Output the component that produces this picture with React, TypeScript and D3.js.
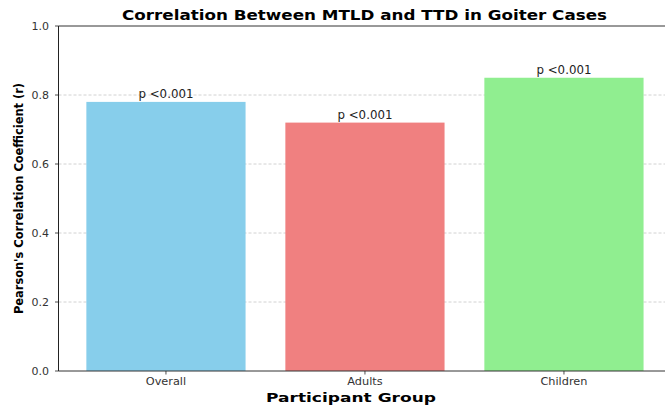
import * as React from 'react'
import * as d3 from 'd3'

const groups = ['Overall', 'Adults', 'Children']
const coefficients = [0.78, 0.72, 0.85]
const pLabels = ['p <0.001', 'p <0.001', 'p <0.001']
const barColors = ['#87ceeb', '#f08080', '#90ee90']
const yTicks = [0, 0.2, 0.4, 0.6, 0.8, 1.0]

const width = 665
const height = 405
const margin = { left: 58.5, top: 26, bottom: 34 }
const font = '"DejaVu Sans", sans-serif'

export default function App() {
  const plotBottom = height - margin.bottom
  // matplotlib-like x limits: -0.54 .. 2.54, band step ~199px
  const x = d3.scaleLinear().domain([-0.54, 2.54]).range([margin.left, margin.left + 3.08 * 199])
  const y = d3.scaleLinear().domain([0, 1]).range([plotBottom, margin.top])
  const barW = x(0.8) - x(0)

  return (
    <svg width={width} height={height} style={{ position: 'absolute', left: 0, top: 0, background: '#fff' }}>
      {/* gridlines */}
      {yTicks.slice(1, -1).map(t => (
        <line key={'g' + t} x1={margin.left} x2={width} y1={y(t)} y2={y(t)}
          stroke="#b0b0b0" strokeWidth={0.8} strokeDasharray="3,2" opacity={0.7} />
      ))}
      {/* bars */}
      {groups.map((g, i) => (
        <rect key={g} x={x(i) - barW / 2} y={y(coefficients[i])} width={barW}
          height={plotBottom - y(coefficients[i])} fill={barColors[i]} />
      ))}
      {/* p labels */}
      {groups.map((g, i) => (
        <text key={'p' + g} x={x(i)} y={y(coefficients[i]) - 3.5} textAnchor="middle"
          fontFamily={font} fontSize={11.5} fill="#222" textLength={55} lengthAdjust="spacingAndGlyphs">{pLabels[i]}</text>
      ))}
      {/* spines */}
      <line x1={margin.left} x2={margin.left} y1={margin.top} y2={plotBottom} stroke="#222" strokeWidth={1} />
      <line x1={margin.left} x2={width} y1={plotBottom} y2={plotBottom} stroke="#333" strokeWidth={1} />
      <line x1={margin.left} x2={width} y1={margin.top} y2={margin.top} stroke="#333" strokeWidth={1} />
      {/* y ticks */}
      {yTicks.map(t => (
        <g key={'yt' + t}>
          <line x1={margin.left - 3.5} x2={margin.left} y1={y(t)} y2={y(t)} stroke="#222" strokeWidth={0.8} />
          <text x={margin.left - 9.5} y={y(t)} dy="0.35em" textAnchor="end" fontFamily={font} fontSize={11} fill="#333">
            {t.toFixed(1)}
          </text>
        </g>
      ))}
      {/* x ticks */}
      {groups.map((g, i) => (
        <g key={'xt' + g}>
          <line x1={x(i)} x2={x(i)} y1={plotBottom} y2={plotBottom + 3.5} stroke="#222" strokeWidth={0.8} />
          <text x={x(i)} y={plotBottom + 14} textAnchor="middle" fontFamily={font} fontSize={11.3} fill="#333">{g}</text>
        </g>
      ))}
      {/* axis labels & title */}
      <text x={351} y={height - 3} textAnchor="middle" fontFamily={font} fontSize={13} fontWeight="bold" fill="#000"
        textLength={170} lengthAdjust="spacingAndGlyphs">
        Participant Group
      </text>
      <text transform={`translate(23,${(83 + 314) / 2}) rotate(-90)`} textAnchor="middle"
        fontFamily={font} fontSize={13} fontWeight="bold" fill="#000" textLength={231} lengthAdjust="spacingAndGlyphs">
        Pearson's Correlation Coefficient (r)
      </text>
      <text x={364.5} y={20} textAnchor="middle" fontFamily={font} fontSize={13.5} fontWeight="bold" fill="#000"
        textLength={485} lengthAdjust="spacingAndGlyphs">
        Correlation Between MTLD and TTD in Goiter Cases
      </text>
    </svg>
  )
}
